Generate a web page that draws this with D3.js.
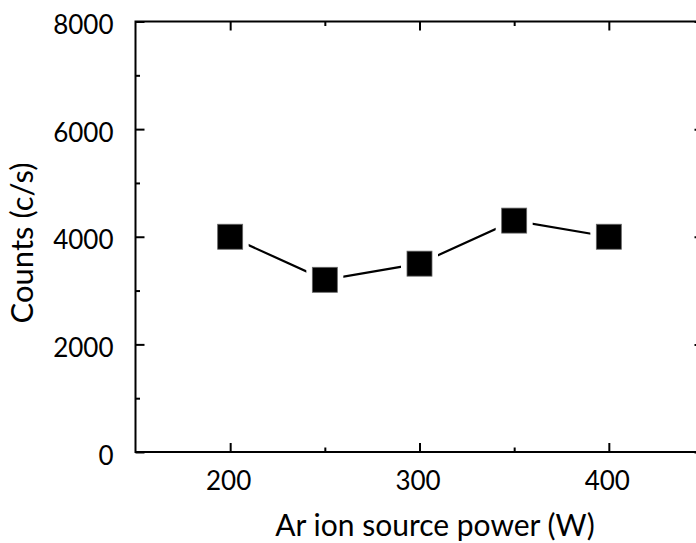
<!DOCTYPE html>
<html>
<head>
<meta charset="utf-8">
<script src="https://cdn.jsdelivr.net/npm/d3@7"></script>
<style>
  html, body { margin: 0; padding: 0; background: #fff; }
  svg { display: block; }
  text { font-family: Lato, "Open Sans", sans-serif; fill: #000; }
</style>
</head>
<body>
<svg id="chart" width="696" height="543"></svg>
<script>
// Ar ion source power (W) and measured counts (c/s)
const power = [200, 250, 300, 350, 400];
const counts = [4000, 3200, 3500, 4300, 4000];

const xMajorTicks = [200, 300, 400];
const xMinorTicks = [250, 350];
const yMajorTicks = [0, 2000, 4000, 6000, 8000];
const yMinorTicks = [1000, 3000, 5000, 7000];

const xTitle = "Ar ion source power (W)";
const yTitle = "Counts (c/s)";

const svg = d3.select("#chart");

const x = d3.scaleLinear().domain([150, 450]).range([135.5, 703.5]);
const y = d3.scaleLinear().domain([0, 8000]).range([452, 21.5]);

const frame = svg.append("g");
const AX = 2;

// inward ticks on all four sides
function ticks(axisFn, scale, values, size, transform, labels) {
  const a = axisFn(scale).tickValues(values).tickSizeInner(-size).tickSizeOuter(0)
    .tickFormat(labels ? d3.format("d") : "");
  const g = frame.append("g").attr("transform", transform).call(a);
  g.select(".domain").remove();
  g.selectAll(".tick line").attr("stroke", "#000").attr("stroke-width", AX);
  return g;
}

const bx = ticks(d3.axisBottom, x, xMajorTicks, 9, `translate(0,${y(0)})`, true);
ticks(d3.axisBottom, x, xMinorTicks, 4.5, `translate(0,${y(0)})`, false);
ticks(d3.axisTop, x, xMajorTicks, 9, `translate(0,${y(8000)})`, false);
ticks(d3.axisTop, x, xMinorTicks, 4.5, `translate(0,${y(8000)})`, false);
const ly = ticks(d3.axisLeft, y, yMajorTicks, 9, `translate(${x(150)},0)`, true);
ticks(d3.axisLeft, y, yMinorTicks, 4.5, `translate(${x(150)},0)`, false);
ticks(d3.axisRight, y, yMajorTicks, 9, `translate(${x(450)},0)`, false);
ticks(d3.axisRight, y, yMinorTicks, 4.5, `translate(${x(450)},0)`, false);

bx.selectAll(".tick text")
  .attr("font-size", 26).attr("font-family", "Lato")
  .attr("y", 0).attr("dy", 0)
  .attr("transform", "translate(-2,38)");
ly.selectAll(".tick text")
  .attr("font-size", 26).attr("font-family", "Lato")
  .attr("x", 0).attr("dy", 0)
  .attr("transform", "translate(-22,12)");

// plot frame
frame.append("rect")
  .attr("x", x(150)).attr("y", y(8000))
  .attr("width", x(450) - x(150)).attr("height", y(0) - y(8000))
  .attr("fill", "none").attr("stroke", "#000").attr("stroke-width", AX);

// connecting line
const pts = power.map((p, i) => [x(p), y(counts[i])]);
svg.append("path")
  .attr("d", d3.line()(pts))
  .attr("fill", "none").attr("stroke", "#000").attr("stroke-width", 2.2);

// square markers with a white gap around them
const S = 25, GAP = 6;
svg.append("g").selectAll("rect").data(pts).join("rect")
  .attr("x", d => d[0] - S / 2 - GAP).attr("y", d => d[1] - S / 2 - GAP)
  .attr("width", S + 2 * GAP).attr("height", S + 2 * GAP)
  .attr("fill", "#fff");
svg.append("g").selectAll("rect").data(pts).join("rect")
  .attr("x", d => d[0] - S / 2).attr("y", d => d[1] - S / 2)
  .attr("width", S).attr("height", S)
  .attr("fill", "#000").attr("stroke", "#666").attr("stroke-width", 0.8);

// axis titles
svg.append("text")
  .attr("x", 435).attr("y", 536)
  .attr("text-anchor", "middle").attr("font-size", 30)
  .text(xTitle);
svg.append("text")
  .attr("transform", "translate(33,243) rotate(-90)")
  .attr("text-anchor", "middle").attr("font-size", 31)
  .text(yTitle);
</script>
</body>
</html>
